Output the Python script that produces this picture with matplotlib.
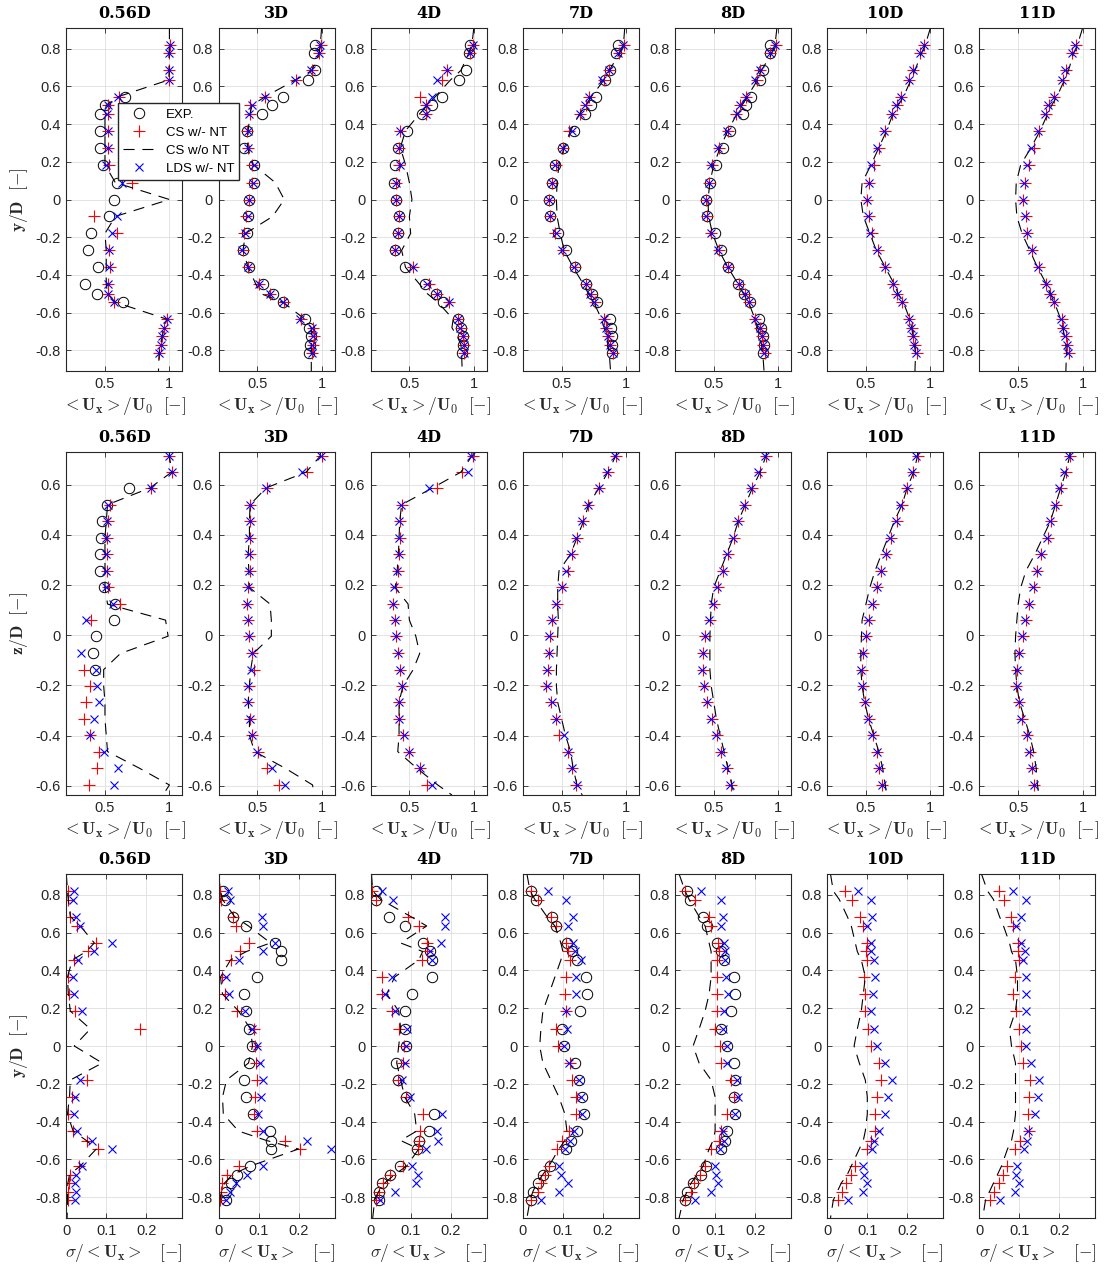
import numpy as np
import matplotlib
matplotlib.use('Agg')
import matplotlib.pyplot as plt
from matplotlib.ticker import FixedLocator, FuncFormatter

nan = np.nan
plt.rcParams['mathtext.fontset'] = 'cm'
plt.rcParams['font.family'] = ['Liberation Sans', 'DejaVu Sans']

STATIONS = ['0.56D', '3D', '4D', '7D', '8D', '10D', '11D']

# measurement positions
Y1 = [0.82, 0.775, 0.685, 0.635, 0.545, 0.50, 0.455, 0.365, 0.275, 0.185, 0.09, 0.0,
      -0.09, -0.18, -0.27, -0.36, -0.45, -0.50, -0.545, -0.635, -0.68, -0.725, -0.77, -0.815]
YL1 = [0.91] + Y1 + [-0.91]
Z2 = [0.714, 0.650, 0.587, 0.520, 0.454, 0.388, 0.323, 0.256, 0.190, 0.124, 0.060, -0.004,
      -0.073, -0.137, -0.203, -0.267, -0.333, -0.399, -0.464, -0.531, -0.597]
ZL2 = [0.73] + Z2 + [-0.637]

# ---- row 1 : <Ux>/U0 vs y/D
r1_exp = [
    [nan, nan, nan, nan, 0.658, 0.50, 0.461, 0.461, 0.461, 0.487, 0.59, 0.573, 0.534, 0.391, 0.365, 0.448, 0.342, 0.435, 0.637, nan, nan, nan, nan, nan],
    [0.947, 0.942, 0.947, 0.895, 0.703, 0.617, 0.539, 0.422, 0.401, 0.474, 0.474, 0.435, 0.427, 0.422, 0.391, 0.435, 0.547, 0.625, 0.703, 0.869, 0.903, 0.916, 0.911, 0.903],
    [0.968, 0.966, 0.939, 0.887, 0.75, 0.679, 0.60, 0.482, 0.413, 0.387, 0.382, 0.395, 0.421, 0.411, 0.39, 0.468, 0.618, 0.705, 0.763, 0.876, 0.902, 0.916, 0.913, 0.908],
    [0.934, 0.92, 0.872, 0.84, 0.766, 0.726, 0.681, 0.596, 0.508, 0.447, 0.423, 0.402, 0.41, 0.476, 0.535, 0.601, 0.689, 0.739, 0.774, 0.875, 0.886, 0.894, 0.894, 0.888],
    [0.94, 0.935, 0.882, 0.856, 0.788, 0.752, 0.723, 0.626, 0.568, 0.516, 0.469, 0.442, 0.45, 0.508, 0.555, 0.613, 0.691, 0.736, 0.778, 0.848, 0.867, 0.882, 0.888, 0.882],
    None,
    None,
]
r1_cs = [
    [1.005, 0.997, 0.997, 0.997, 0.609, 0.521, 0.521, 0.526, 0.526, 0.531, 0.707, nan, 0.415, 0.59, 0.531, 0.539, 0.526, 0.521, 0.570, 0.979, 0.958, 0.945, 0.933, 0.922],
    [0.995, 0.982, 0.924, 0.799, 0.56, 0.443, 0.443, 0.422, 0.427, 0.461, 0.461, 0.435, 0.417, 0.401, 0.391, 0.427, 0.513, 0.599, 0.708, 0.838, 0.937, 0.942, 0.934, 0.929],
    [0.995, 0.974, 0.795, 0.75, 0.584, 0.632, 0.632, 0.426, 0.416, 0.421, 0.395, 0.395, 0.421, 0.408, 0.39, 0.526, 0.653, 0.711, 0.811, 0.881, 0.902, 0.916, 0.921, 0.921],
    [0.981, 0.947, 0.867, 0.827, 0.715, 0.689, 0.646, 0.561, 0.513, 0.455, 0.423, 0.402, 0.407, 0.45, 0.508, 0.601, 0.689, 0.726, 0.76, 0.827, 0.848, 0.859, 0.875, 0.902],
    [0.979, 0.94, 0.862, 0.835, 0.752, 0.704, 0.673, 0.607, 0.542, 0.49, 0.463, 0.442, 0.45, 0.476, 0.542, 0.613, 0.696, 0.744, 0.77, 0.822, 0.856, 0.875, 0.882, 0.9],
    [0.953, 0.921, 0.868, 0.837, 0.771, 0.737, 0.703, 0.65, 0.6, 0.56, 0.526, 0.508, 0.521, 0.545, 0.592, 0.65, 0.71, 0.742, 0.781, 0.837, 0.855, 0.868, 0.881, 0.895],
    [0.946, 0.92, 0.871, 0.845, 0.78, 0.741, 0.715, 0.661, 0.624, 0.585, 0.552, 0.539, 0.557, 0.57, 0.609, 0.661, 0.715, 0.746, 0.78, 0.837, 0.85, 0.868, 0.881, 0.894],
]
r1_cs_nont = [
    [1.0, 1.0, 0.997, 0.997, 0.997, 0.60, 0.51, 0.50, 0.50, 0.50, 0.50, 0.58, 1.0, 0.58, 0.50, 0.51, 0.51, 0.51, 0.52, 0.58, 0.98, 0.96, 0.945, 0.93, 0.92, 0.915],
    [1.0, 0.99, 0.98, 0.925, 0.80, 0.56, 0.46, 0.445, 0.43, 0.425, 0.47, 0.64, 0.71, 0.62, 0.41, 0.39, 0.43, 0.49, 0.53, 0.70, 0.87, 0.92, 0.925, 0.92, 0.92, 0.92],
    [1.0, 0.985, 0.96, 0.90, 0.82, 0.70, 0.64, 0.58, 0.47, 0.43, 0.47, 0.50, 0.52, 0.50, 0.51, 0.44, 0.47, 0.58, 0.64, 0.72, 0.84, 0.83, 0.87, 0.90, 0.905, 0.91],
    [0.99, 0.98, 0.95, 0.87, 0.83, 0.73, 0.69, 0.64, 0.57, 0.52, 0.48, 0.465, 0.46, 0.465, 0.49, 0.52, 0.59, 0.67, 0.71, 0.75, 0.81, 0.83, 0.85, 0.86, 0.87, 0.88],
    [0.99, 0.975, 0.95, 0.87, 0.84, 0.76, 0.72, 0.68, 0.61, 0.55, 0.50, 0.47, 0.455, 0.46, 0.49, 0.54, 0.61, 0.69, 0.73, 0.77, 0.82, 0.84, 0.86, 0.87, 0.88, 0.89],
    [1.0, 0.96, 0.93, 0.88, 0.85, 0.79, 0.75, 0.71, 0.66, 0.60, 0.54, 0.47, 0.46, 0.48, 0.53, 0.58, 0.65, 0.72, 0.75, 0.79, 0.84, 0.855, 0.865, 0.875, 0.885, 0.88],
    [1.0, 0.96, 0.93, 0.89, 0.86, 0.80, 0.76, 0.73, 0.67, 0.60, 0.52, 0.485, 0.48, 0.49, 0.53, 0.59, 0.65, 0.72, 0.75, 0.78, 0.83, 0.845, 0.86, 0.87, 0.875, 0.87],
]
r1_lds = [
    [1.005, 0.997, 0.997, 0.997, 0.604, 0.526, 0.518, 0.521, 0.521, 0.508, 0.63, nan, 0.59, 0.557, 0.531, 0.531, 0.526, 0.526, 0.570, 0.979, 0.958, 0.945, 0.933, 0.922],
    [0.989, 0.981, 0.916, 0.794, 0.56, 0.461, 0.438, 0.43, 0.432, 0.474, 0.466, 0.435, 0.427, 0.404, 0.386, 0.427, 0.513, 0.599, 0.703, 0.833, 0.929, 0.937, 0.929, 0.924],
    [0.995, 0.974, 0.795, 0.716, 0.676, 0.632, 0.632, 0.429, 0.416, 0.426, 0.395, 0.395, 0.421, 0.408, 0.39, 0.526, 0.637, 0.716, 0.81, 0.881, 0.895, 0.916, 0.921, 0.921],
    [0.979, 0.939, 0.867, 0.814, 0.715, 0.681, 0.646, 0.582, 0.508, 0.449, 0.423, 0.402, 0.407, 0.455, 0.503, 0.596, 0.686, 0.721, 0.755, 0.827, 0.848, 0.859, 0.875, 0.902],
    [0.974, 0.935, 0.862, 0.822, 0.752, 0.704, 0.678, 0.605, 0.534, 0.482, 0.461, 0.442, 0.442, 0.476, 0.534, 0.607, 0.696, 0.744, 0.77, 0.822, 0.856, 0.875, 0.882, 0.893],
    [0.947, 0.921, 0.868, 0.837, 0.768, 0.731, 0.703, 0.639, 0.584, 0.539, 0.521, 0.505, 0.516, 0.534, 0.584, 0.65, 0.71, 0.737, 0.776, 0.837, 0.85, 0.868, 0.873, 0.889],
    [0.94, 0.914, 0.863, 0.837, 0.78, 0.733, 0.712, 0.655, 0.596, 0.57, 0.547, 0.539, 0.552, 0.565, 0.609, 0.655, 0.715, 0.746, 0.78, 0.832, 0.845, 0.863, 0.876, 0.889],
]

# ---- row 2 : <Ux>/U0 vs z/D
r2_exp = [
    [nan, nan, 0.685, 0.516, 0.479, 0.471, 0.464, 0.464, 0.49, 0.58, 0.568, 0.432, 0.406, 0.419, nan, nan, nan, nan, nan, nan, nan],
    None, None, None, None, None, None,
]
r2_cs = [
    [1.0, 1.018, 0.854, 0.536, 0.523, 0.516, 0.516, 0.516, 0.523, 0.614, 0.388, nan, nan, 0.341, 0.38, 0.354, 0.341, 0.386, 0.451, 0.438, 0.375],
    [1.0, 0.885, 0.573, 0.448, 0.448, 0.443, 0.443, 0.443, 0.43, 0.422, 0.427, 0.435, 0.461, 0.474, 0.435, 0.43, 0.443, 0.461, 0.505, 0.578, 0.669],
    [0.995, 0.908, 0.716, 0.442, 0.426, 0.426, 0.421, 0.408, 0.395, 0.374, 0.39, 0.395, 0.408, 0.429, 0.44, 0.416, 0.421, 0.453, 0.5, 0.584, 0.637],
    [0.926, 0.859, 0.79, 0.707, 0.668, 0.62, 0.582, 0.548, 0.50, 0.463, 0.428, 0.407, 0.402, 0.394, 0.38, 0.415, 0.455, 0.481, 0.548, 0.582, 0.614],
    [0.909, 0.856, 0.796, 0.744, 0.691, 0.66, 0.613, 0.573, 0.534, 0.50, 0.469, 0.429, 0.416, 0.416, 0.424, 0.45, 0.49, 0.526, 0.555, 0.60, 0.631],
    [0.902, 0.868, 0.821, 0.781, 0.742, 0.697, 0.658, 0.618, 0.587, 0.553, 0.521, 0.50, 0.479, 0.468, 0.474, 0.495, 0.521, 0.553, 0.587, 0.605, 0.626],
    [0.902, 0.868, 0.829, 0.793, 0.754, 0.728, 0.681, 0.65, 0.622, 0.583, 0.56, 0.534, 0.508, 0.492, 0.487, 0.505, 0.526, 0.565, 0.591, 0.611, 0.622],
]
r2_cs_nont = [
    [1.0, 1.0, 1.018, 0.85, 0.52, 0.51, 0.50, 0.50, 0.50, 0.50, 0.52, 0.97, 0.99, 0.62, 0.49, 0.49, 0.50, 0.50, 0.51, 0.52, 0.77, 1.0, 0.95],
    [0.99, 0.99, 0.88, 0.57, 0.445, 0.44, 0.44, 0.43, 0.435, 0.44, 0.60, 0.61, 0.61, 0.47, 0.45, 0.44, 0.43, 0.44, 0.44, 0.48, 0.72, 0.93, 0.94],
    [0.985, 0.985, 0.90, 0.68, 0.44, 0.425, 0.42, 0.415, 0.405, 0.39, 0.49, 0.50, 0.55, 0.58, 0.53, 0.45, 0.42, 0.42, 0.42, 0.41, 0.56, 0.72, 0.83],
    [0.93, 0.92, 0.86, 0.79, 0.71, 0.67, 0.62, 0.57, 0.48, 0.47, 0.47, 0.475, 0.47, 0.465, 0.46, 0.46, 0.47, 0.50, 0.53, 0.57, 0.59, 0.62, 0.66],
    [0.91, 0.905, 0.86, 0.80, 0.745, 0.69, 0.65, 0.60, 0.55, 0.50, 0.48, 0.475, 0.47, 0.47, 0.47, 0.48, 0.50, 0.52, 0.55, 0.58, 0.61, 0.64, 0.66],
    [0.90, 0.90, 0.87, 0.82, 0.78, 0.72, 0.67, 0.62, 0.57, 0.53, 0.50, 0.47, 0.465, 0.46, 0.46, 0.47, 0.49, 0.52, 0.56, 0.60, 0.63, 0.65, 0.66],
    [0.90, 0.90, 0.87, 0.83, 0.79, 0.75, 0.69, 0.63, 0.56, 0.52, 0.50, 0.49, 0.48, 0.475, 0.48, 0.49, 0.51, 0.55, 0.59, 0.62, 0.64, 0.65, 0.66],
]
r2_lds = [
    [1.0, 1.018, 0.854, 0.523, 0.516, 0.51, 0.51, 0.51, 0.505, 0.562, 0.349, nan, 0.315, 0.432, 0.44, 0.453, 0.414, 0.386, 0.49, 0.601, 0.568],
    [0.995, 0.851, 0.565, 0.448, 0.443, 0.438, 0.438, 0.438, 0.427, 0.422, 0.425, 0.435, 0.461, 0.453, 0.427, 0.427, 0.448, 0.461, 0.50, 0.617, 0.713],
    [0.981, 0.955, 0.65, 0.434, 0.421, 0.421, 0.416, 0.403, 0.382, 0.374, 0.39, 0.395, 0.408, 0.426, 0.44, 0.416, 0.421, 0.461, 0.50, 0.584, 0.679],
    [0.912, 0.854, 0.787, 0.702, 0.66, 0.609, 0.574, 0.535, 0.5, 0.455, 0.423, 0.402, 0.402, 0.388, 0.388, 0.423, 0.455, 0.516, 0.553, 0.58, 0.62],
    [0.901, 0.841, 0.791, 0.738, 0.686, 0.652, 0.605, 0.573, 0.526, 0.495, 0.463, 0.429, 0.416, 0.411, 0.421, 0.448, 0.482, 0.521, 0.555, 0.594, 0.626],
    [0.889, 0.855, 0.816, 0.763, 0.731, 0.684, 0.653, 0.618, 0.587, 0.547, 0.513, 0.5, 0.474, 0.461, 0.466, 0.489, 0.516, 0.547, 0.584, 0.605, 0.624],
    [0.894, 0.857, 0.819, 0.785, 0.746, 0.72, 0.681, 0.65, 0.617, 0.583, 0.554, 0.531, 0.505, 0.49, 0.49, 0.505, 0.521, 0.565, 0.585, 0.609, 0.622],
]

# ---- row 3 : sigma/<Ux> vs y/D
r3_exp = [
    None,
    [0.011, 0.015, 0.036, 0.068, 0.14, 0.156, 0.156, 0.097, 0.064, 0.068, 0.077, 0.083, 0.077, 0.064, 0.068, 0.087, 0.129, 0.131, 0.131, 0.079, 0.046, 0.03, 0.019, 0.019],
    [0.013, 0.014, 0.046, 0.085, 0.13, 0.148, 0.152, 0.152, 0.102, 0.085, 0.085, 0.088, 0.064, 0.067, 0.088, 0.157, 0.146, 0.121, 0.116, 0.074, 0.049, 0.029, 0.021, 0.021],
    [0.019, 0.032, 0.073, 0.083, 0.111, 0.123, 0.136, 0.157, 0.161, 0.143, 0.097, 0.102, 0.129, 0.14, 0.148, 0.152, 0.136, 0.121, 0.107, 0.068, 0.05, 0.037, 0.025, 0.019],
    [0.029, 0.037, 0.071, 0.08, 0.106, 0.116, 0.123, 0.148, 0.149, 0.139, 0.114, 0.13, 0.148, 0.149, 0.148, 0.149, 0.13, 0.125, 0.114, 0.077, 0.065, 0.044, 0.03, 0.025],
    None,
    None,
]
r3_cs = [
    [0.003, 0.003, 0.008, 0.027, 0.074, 0.055, 0.019, 0.004, 0.006, 0.021, 0.184, nan, nan, 0.052, 0.013, 0.004, 0.017, 0.052, 0.078, 0.031, 0.008, 0.006, 0.004, 0.003],
    [0.003, 0.007, 0.036, 0.043, 0.077, 0.053, 0.032, 0.008, 0.015, 0.046, 0.089, 0.09, 0.094, 0.095, 0.091, 0.089, 0.097, 0.166, 0.203, 0.052, 0.022, 0.009, 0.005, 0.003],
    [0.004, 0.013, 0.094, 0.121, 0.14, 0.14, 0.127, 0.027, 0.027, 0.052, 0.071, 0.084, 0.081, 0.069, 0.087, 0.131, 0.123, 0.121, 0.117, 0.081, 0.048, 0.031, 0.021, 0.013],
    [0.019, 0.037, 0.071, 0.083, 0.108, 0.112, 0.118, 0.108, 0.106, 0.107, 0.083, 0.087, 0.117, 0.123, 0.133, 0.132, 0.115, 0.097, 0.085, 0.065, 0.054, 0.046, 0.037, 0.019],
    [0.026, 0.051, 0.086, 0.09, 0.107, 0.11, 0.106, 0.106, 0.106, 0.106, 0.1, 0.112, 0.116, 0.139, 0.147, 0.131, 0.116, 0.11, 0.089, 0.075, 0.063, 0.047, 0.039, 0.026],
    [0.044, 0.061, 0.081, 0.088, 0.098, 0.096, 0.1, 0.091, 0.094, 0.095, 0.102, 0.11, 0.129, 0.135, 0.125, 0.119, 0.119, 0.108, 0.1, 0.069, 0.058, 0.046, 0.037, 0.027],
    [0.048, 0.062, 0.08, 0.084, 0.096, 0.096, 0.098, 0.09, 0.084, 0.092, 0.098, 0.104, 0.11, 0.126, 0.123, 0.121, 0.123, 0.102, 0.09, 0.069, 0.06, 0.048, 0.037, 0.027],
]
r3_cs_nont = [
    [0.0, 0.003, 0.005, 0.01, 0.035, 0.07, 0.05, 0.015, 0.003, 0.005, 0.01, 0.06, 0.02, 0.09, 0.01, 0.008, 0.003, 0.017, 0.05, 0.075, 0.035, 0.008, 0.004, 0.003, 0.003, 0.002],
    [0.0, 0.005, 0.01, 0.04, 0.075, 0.13, 0.07, 0.03, 0.005, 0.01, 0.05, 0.08, 0.085, 0.075, 0.02, 0.01, 0.012, 0.05, 0.12, 0.20, 0.08, 0.035, 0.015, 0.008, 0.003, 0.002],
    [0.002, 0.005, 0.025, 0.10, 0.14, 0.075, 0.13, 0.12, 0.06, 0.04, 0.07, 0.075, 0.07, 0.065, 0.075, 0.085, 0.11, 0.115, 0.075, 0.12, 0.09, 0.06, 0.035, 0.02, 0.01, 0.005],
    [0.01, 0.018, 0.03, 0.06, 0.08, 0.095, 0.10, 0.095, 0.08, 0.065, 0.05, 0.045, 0.042, 0.05, 0.07, 0.09, 0.105, 0.11, 0.105, 0.09, 0.065, 0.05, 0.035, 0.025, 0.018, 0.01],
    [0.01, 0.025, 0.035, 0.06, 0.075, 0.085, 0.09, 0.09, 0.09, 0.085, 0.075, 0.06, 0.045, 0.06, 0.09, 0.10, 0.10, 0.10, 0.095, 0.085, 0.07, 0.055, 0.04, 0.03, 0.02, 0.01],
    [0.008, 0.015, 0.03, 0.05, 0.06, 0.07, 0.075, 0.085, 0.095, 0.09, 0.085, 0.075, 0.067, 0.08, 0.095, 0.10, 0.10, 0.095, 0.09, 0.08, 0.06, 0.05, 0.035, 0.025, 0.015, 0.008],
    [0.005, 0.02, 0.035, 0.05, 0.06, 0.075, 0.08, 0.09, 0.095, 0.095, 0.09, 0.075, 0.08, 0.09, 0.09, 0.09, 0.09, 0.085, 0.08, 0.07, 0.055, 0.045, 0.035, 0.025, 0.015, 0.008],
]
r3_lds = [
    [0.019, 0.017, 0.024, 0.035, 0.114, 0.068, 0.028, 0.017, 0.019, 0.04, nan, nan, nan, 0.035, 0.021, 0.019, 0.027, 0.063, 0.114, 0.04, 0.025, 0.021, 0.023, 0.021],
    [0.024, 0.028, 0.108, 0.112, 0.14, 0.112, 0.052, 0.019, 0.026, 0.066, 0.083, 0.095, 0.104, 0.11, 0.106, 0.098, 0.112, 0.221, 0.281, 0.112, 0.07, 0.043, 0.028, 0.019],
    [0.027, 0.056, 0.186, 0.186, 0.176, 0.148, 0.152, 0.052, 0.035, 0.06, 0.09, 0.088, 0.085, 0.077, 0.098, 0.179, 0.165, 0.167, 0.137, 0.102, 0.119, 0.113, 0.06, 0.024],
    [0.062, 0.108, 0.125, 0.112, 0.125, 0.129, 0.144, 0.132, 0.132, 0.107, 0.11, 0.102, 0.115, 0.14, 0.146, 0.147, 0.127, 0.117, 0.104, 0.09, 0.096, 0.112, 0.09, 0.044],
    [0.065, 0.115, 0.121, 0.115, 0.123, 0.126, 0.125, 0.127, 0.133, 0.122, 0.119, 0.13, 0.131, 0.156, 0.157, 0.149, 0.119, 0.123, 0.112, 0.1, 0.103, 0.108, 0.09, 0.051],
    [0.077, 0.11, 0.112, 0.098, 0.108, 0.11, 0.116, 0.12, 0.113, 0.108, 0.117, 0.123, 0.145, 0.162, 0.152, 0.144, 0.13, 0.116, 0.112, 0.088, 0.092, 0.1, 0.088, 0.052],
    [0.085, 0.116, 0.105, 0.092, 0.104, 0.113, 0.108, 0.117, 0.116, 0.116, 0.116, 0.117, 0.129, 0.15, 0.146, 0.138, 0.121, 0.119, 0.112, 0.094, 0.091, 0.098, 0.088, 0.052],
]

ROWS = [
    dict(y=Y1, yl=YL1, exp=r1_exp, cs=r1_cs, nont=r1_cs_nont, lds=r1_lds,
         xlim=(0.2, 1.1), ylim=(-0.91, 0.91), xticks=[0.5, 1], yticks=np.arange(-0.8, 0.81, 0.2),
         xlabel=r'$<\mathbf{U_x}>/\mathbf{U_0}\ \ [-]$', ylabel=r'$\mathbf{y/D}\ \ [-]$', top=28, bot=371),
    dict(y=Z2, yl=ZL2, exp=r2_exp, cs=r2_cs, nont=r2_cs_nont, lds=r2_lds,
         xlim=(0.2, 1.1), ylim=(-0.637, 0.73), xticks=[0.5, 1], yticks=np.arange(-0.6, 0.61, 0.2),
         xlabel=r'$<\mathbf{U_x}>/\mathbf{U_0}\ \ [-]$', ylabel=r'$\mathbf{z/D}\ \ [-]$', top=452, bot=795),
    dict(y=Y1, yl=YL1, exp=r3_exp, cs=r3_cs, nont=r3_cs_nont, lds=r3_lds,
         xlim=(0, 0.29), ylim=(-0.91, 0.91), xticks=[0, 0.1, 0.2], yticks=np.arange(-0.8, 0.81, 0.2),
         xlabel=r'$\sigma/<\mathbf{U_x}>\ \ \ [-]$', ylabel=r'$\mathbf{y/D}\ \ [-]$', top=874, bot=1218),
]

W, H = 1107, 1271
fig = plt.figure(figsize=(W / 100, H / 100), dpi=100)
fmt = FuncFormatter(lambda v, p: ('%g' % (round(v, 2) + 0.0)))
TXT = '#262626'

handles = None
for r, row in enumerate(ROWS):
    for c, st in enumerate(STATIONS):
        left = 66.3 + 152.2 * c
        ax = fig.add_axes([left / W, 1 - row['bot'] / H, 116 / W, (row['bot'] - row['top']) / H])
        h = []
        if row['exp'][c] is not None:
            h += ax.plot(row['exp'][c], row['y'], 'o', mfc='none', mec='k', ms=7.5, mew=0.7, ls='none', label='EXP.')
        h += ax.plot(row['cs'][c], row['y'], '+', color='r', ms=8, mew=0.8, ls='none', label='CS w/- NT')
        h += ax.plot(row['nont'][c], row['yl'], color='k', lw=0.8, dashes=(10, 7), label='CS w/o NT')
        h += ax.plot(row['lds'][c], row['y'], 'x', color='b', ms=6, mew=0.8, ls='none', label='LDS w/- NT')
        if r == 0 and c == 0:
            handles = h
        ax.set_xlim(row['xlim'])
        ax.set_ylim(row['ylim'])
        ax.xaxis.set_major_locator(FixedLocator(row['xticks']))
        ax.yaxis.set_major_locator(FixedLocator(row['yticks']))
        ax.xaxis.set_major_formatter(fmt)
        ax.yaxis.set_major_formatter(fmt)
        ax.grid(True, color='#dedede', lw=0.6)
        ax.set_axisbelow(True)
        ax.tick_params(direction='in', length=3.5, width=0.6, top=True, right=True,
                       labelsize=10.5, colors=TXT, labelcolor=TXT, pad=4)
        for s in ax.spines.values():
            s.set_color(TXT)
            s.set_linewidth(0.8)
        ax.set_title(st, fontsize=11.5, fontweight='bold', family='DejaVu Serif', pad=7)
        ax.set_xlabel(row['xlabel'], fontsize=12.5, color=TXT, labelpad=3)
        if c == 0:
            ax.set_ylabel(row['ylabel'], fontsize=12.5, color=TXT, labelpad=4)

fig.legend(handles=handles, loc='upper left', bbox_to_anchor=(118 / W, 1 - 103 / H),
           bbox_transform=fig.transFigure, fancybox=False, framealpha=1, edgecolor=TXT,
           fontsize=9.5, handlelength=2.4, borderpad=0.4, labelspacing=0.45, handletextpad=0.8,
           borderaxespad=0)

fig.savefig('out.png', dpi=100)
